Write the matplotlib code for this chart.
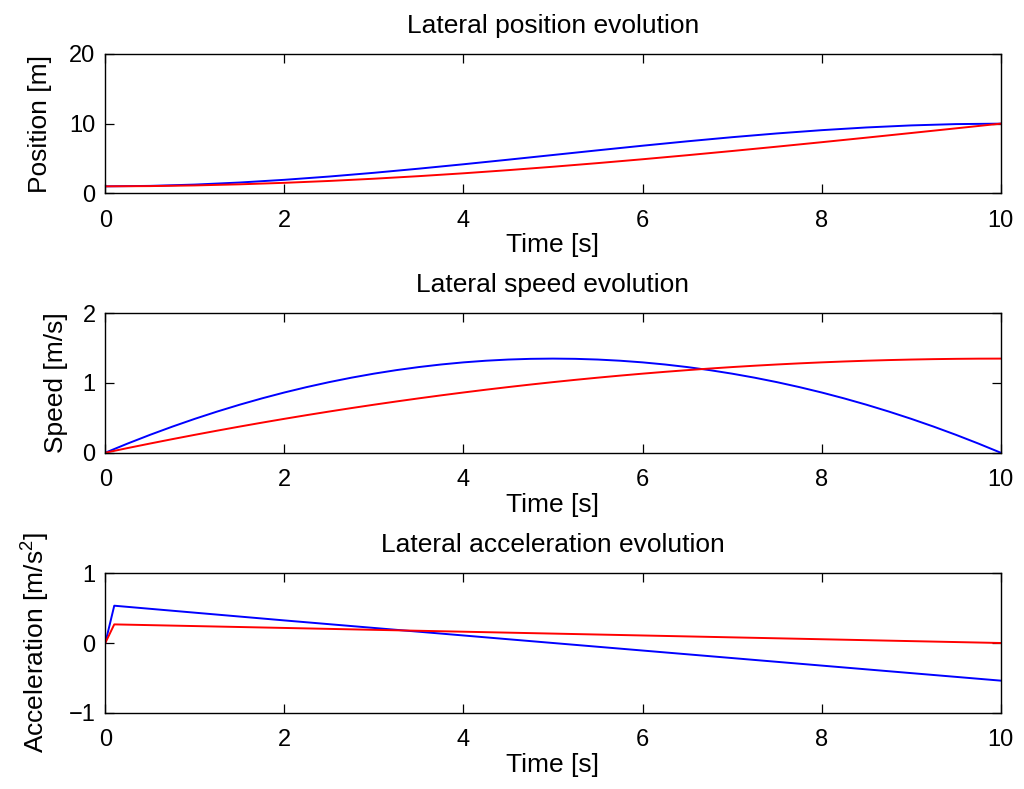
import matplotlib
matplotlib.use("Agg")
import matplotlib.pyplot as plt

plt.rcParams['font.family'] = ['Liberation Sans', 'DejaVu Sans']
plt.rcParams['mathtext.default'] = 'regular'

# ---- data ----
time = [0.0, 0.5, 1.0, 1.5, 2.0, 2.5, 3.0, 3.5, 4.0, 4.5, 5.0,
        5.5, 6.0, 6.5, 7.0, 7.5, 8.0, 8.5, 9.0, 9.5, 10.0]

pos_blue = [1.00, 1.065, 1.252, 1.547, 1.936, 2.406, 2.944, 3.536, 4.168, 4.827, 5.50,
            6.173, 6.832, 7.464, 8.056, 8.594, 9.064, 9.453, 9.748, 9.935, 10.00]
pos_red = [1.00, 1.033, 1.131, 1.289, 1.504, 1.773, 2.094, 2.461, 2.872, 3.324, 3.813,
           4.335, 4.888, 5.468, 6.072, 6.695, 7.336, 7.990, 8.655, 9.326, 10.00]

speed_time = [0.0, 0.25, 0.5, 0.75, 1.0, 1.25, 1.5, 1.75, 2.0, 2.25, 2.5, 2.75, 3.0, 3.25,
              3.5, 3.75, 4.0, 4.25, 4.5, 4.75, 5.0, 5.25, 5.5, 5.75, 6.0, 6.25, 6.5, 6.75,
              7.0, 7.25, 7.5, 7.75, 8.0, 8.25, 8.5, 8.75, 9.0, 9.25, 9.5, 9.75, 10.0]
speed_blue = [0.0, 0.1316, 0.2565, 0.3746, 0.486, 0.5906, 0.6885, 0.7796, 0.864, 0.9416,
              1.0125, 1.0766, 1.134, 1.1846, 1.2285, 1.2656, 1.296, 1.3196, 1.3365, 1.3466,
              1.35, 1.3466, 1.3365, 1.3196, 1.296, 1.2656, 1.2285, 1.1846, 1.134, 1.0766,
              1.0125, 0.9416, 0.864, 0.7796, 0.6885, 0.5906, 0.486, 0.3746, 0.2565, 0.1316, 0.0]
speed_red = [0.0, 0.0667, 0.1316, 0.1949, 0.2565, 0.3164, 0.3746, 0.4312, 0.486, 0.5392,
             0.5906, 0.6404, 0.6885, 0.7349, 0.7796, 0.8227, 0.864, 0.9037, 0.9416, 0.9779,
             1.0125, 1.0454, 1.0766, 1.1061, 1.134, 1.1602, 1.1846, 1.2074, 1.2285, 1.2479,
             1.2656, 1.2817, 1.296, 1.3087, 1.3196, 1.3289, 1.3365, 1.3424, 1.3466, 1.3492, 1.35]

acc_time = [0.0, 0.1, 2.0, 4.0, 6.0, 8.0, 10.0]
acc_blue = [0.0, 0.535, 0.324, 0.108, -0.108, -0.324, -0.54]
acc_red = [0.0, 0.267, 0.216, 0.162, 0.108, 0.054, 0.0]

titles = ["Lateral position evolution", "Lateral speed evolution", "Lateral acceleration evolution"]
ylabels = ["Position [m]", "Speed [m/s]", "Acceleration [m/s$^2$]"]
xlabel = "Time [s]"
xticks = [0, 2, 4, 6, 8, 10]
yticks = [[0, 10, 20], [0, 1, 2], [-1, 0, 1]]
series = [(time, pos_blue, pos_red), (speed_time, speed_blue, speed_red), (acc_time, acc_blue, acc_red)]

fig = plt.figure(figsize=(10.24, 7.89), dpi=100)
W, H = 1024.0, 789.0
left, right = 105.3, 1000.7
tops = [54.0, 313.3, 573.3]
bottoms = [193.3, 452.7, 712.7]
ylabel_x = [-0.0595, -0.0417, -0.0595]

fs_lab = 19
fs_tick = 17
for i in range(3):
    ax = fig.add_axes([left / W, 1 - bottoms[i] / H, (right - left) / W, (bottoms[i] - tops[i]) / H])
    t, b, r = series[i]
    ax.plot(t, b, color=(0, 0, 1), lw=1.4)
    ax.plot(t, r, color=(1, 0, 0), lw=1.4)
    ax.set_xlim(0, 10)
    ax.set_ylim(yticks[i][0], yticks[i][-1])
    ax.set_xticks(xticks)
    ax.set_yticks(yticks[i])
    ax.tick_params(direction='in', length=6.5, width=0.9, top=True, right=True,
                   labelsize=fs_tick)
    ax.tick_params(axis='x', pad=12)
    ax.tick_params(axis='y', pad=7)
    for s in ax.spines.values():
        s.set_linewidth(1.0)
    ax.set_title(titles[i], fontsize=fs_lab, pad=15)
    ax.set_xlabel(xlabel, fontsize=fs_lab, labelpad=1)
    ax.set_ylabel(ylabels[i], fontsize=fs_lab)
    ax.yaxis.set_label_coords(ylabel_x[i], 0.5)

fig.savefig("out.png", dpi=100, facecolor="white")
